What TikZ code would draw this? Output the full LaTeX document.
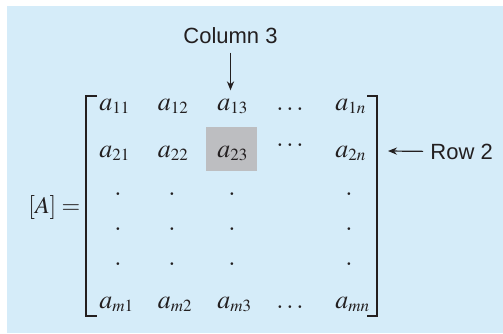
\documentclass[tikz,border=0pt]{standalone}
\usepackage{mathptmx}
\usepackage[no-math]{fontspec}
\newfontfamily\labelfont{Liberation Sans}
\usepackage{xcolor}
\usetikzlibrary{arrows.meta}
\DeclareMathSizes{13}{13}{8.5}{6.5}
\definecolor{bgblue}{HTML}{D5ECF9}
\definecolor{cellgray}{HTML}{BDBEC1}
\definecolor{ink}{HTML}{231F20}

\begin{document}
\begin{tikzpicture}[x=0.5pt,y=-0.5pt,>={Stealth[length=4.5pt,width=3.6pt]},
  entry/.style={anchor=base west,inner sep=0pt,text=ink,font=\fontsize{13}{15}\selectfont},
  vdot/.style={anchor=base,inner sep=0pt,text=ink,font=\fontsize{13}{15}\selectfont},
  tag/.style={anchor=base,inner sep=0pt,text=ink,font=\labelfont\fontsize{11}{13}\selectfont}]
  % Background panel
  \useasboundingbox (0,0) rectangle (503,333);
  \fill[bgblue] (7,6) rectangle (503,333);

  % Highlighted element a_23
  \node[fill=cellgray,minimum width=25.5pt,minimum height=22pt,inner sep=0pt] (box23) at (231.5,149) {};

  % Brackets
  \draw[ink,line width=0.75pt] (97,96) -- (86,96) -- (86,316) -- (97,316);
  \draw[ink,line width=0.75pt] (367,96) -- (377,96) -- (377,316) -- (367,316);

  % [A] =
  \node[entry,font=\fontsize{12}{14}\selectfont] (lhs) at (28,213) {$[A] =$};

  % Row 1
  \node[entry] (a11) at (99,110) {$a_{11}$};
  \node[entry] (a12) at (157.5,110) {$a_{12}$};
  \node[entry] (a13) at (217,110) {$a_{13}$};
  \node[vdot] (d1) at (290,110) {$\ldots$};
  \node[entry] (a1n) at (335,110) {$a_{1n}$};

  % Row 2
  \node[entry] (a21) at (99,157) {$a_{21}$};
  \node[entry] (a22) at (157.5,157) {$a_{22}$};
  \node[entry] (a23) at (217,157) {$a_{23}$};
  \node[vdot] (d2) at (290,146) {$\ldots$};
  \node[entry] (a2n) at (335,157) {$a_{2n}$};

  % Vertical dots
  \node[vdot] (v11) at (118,195) {$.$};
  \node[vdot] (v12) at (172,195) {$.$};
  \node[vdot] (v13) at (232,195) {$.$};
  \node[vdot] (v15) at (349,195) {$.$};
  \node[vdot] (v21) at (118,230) {$.$};
  \node[vdot] (v22) at (172,230) {$.$};
  \node[vdot] (v23) at (232,230) {$.$};
  \node[vdot] (v25) at (349,230) {$.$};
  \node[vdot] (v31) at (118,265) {$.$};
  \node[vdot] (v32) at (172,265) {$.$};
  \node[vdot] (v33) at (232,265) {$.$};
  \node[vdot] (v35) at (349,265) {$.$};

  % Row m
  \node[entry] (am1) at (99,308) {$a_{m1}$};
  \node[entry] (am2) at (157.5,308) {$a_{m2}$};
  \node[entry] (am3) at (217,308) {$a_{m3}$};
  \node[vdot] (dm) at (290,308) {$\ldots$};
  \node[entry] (amn) at (335,308) {$a_{mn}$};

  % Column 3 pointer
  \node[tag] (col3) at (230.5,43) {Column 3};
  \draw[->,ink,line width=0.6pt,shorten <=4.5pt,shorten >=4pt] (col3.south) -- (col3.south |- a13.north);

  % Row 2 pointer
  \node[tag,anchor=base west] (row2) at (430,159) {Row 2};
  \coordinate (r2tip) at (388,151);
  \draw[->,ink,line width=0.6pt,shorten <=3.5pt] (row2.west) -- (r2tip);
\end{tikzpicture}
\end{document}
